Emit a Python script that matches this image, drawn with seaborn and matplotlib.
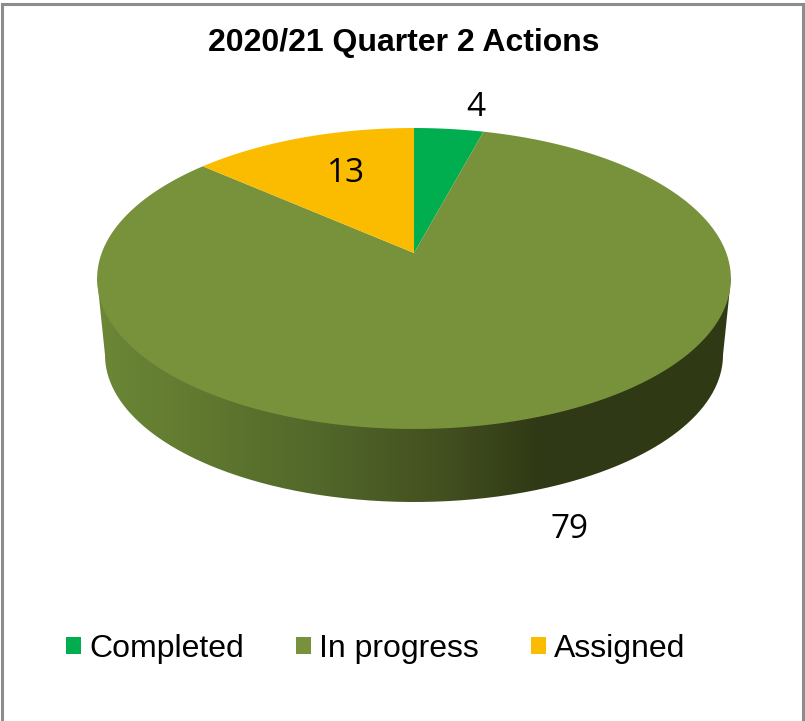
import numpy as np
import matplotlib
matplotlib.use("Agg")
import matplotlib.pyplot as plt
import seaborn as sns
from matplotlib.colors import LinearSegmentedColormap
from matplotlib.patches import Patch, PathPatch, Rectangle
from matplotlib.path import Path

TITLE = "2020/21 Quarter 2 Actions"
CATEGORIES = ["Completed", "In progress", "Assigned"]
VALUES = [4, 79, 13]
COLORS = ["#00AE4F", "#78923B", "#FBBC00"]

# where the data labels sit, in picture pixels
LABEL_POS = [(476, 107), (569, 529), (346, 174)]

# perspective of the tilted pie, worked out from the picture
APEX_X, APEX_Y = 414, 253
K_X, K_A, K_C = 312.3, -103.3, 0.1694
WALL_STOPS = [
    (0.00, "#6C8737"),
    (0.15, "#617A30"),
    (0.35, "#52672A"),
    (0.55, "#424F1F"),
    (0.70, "#2F3915"),
    (1.00, "#303B16"),
]


def project(theta):
    # theta is clockwise from 12 o'clock, in degrees
    u = np.sin(np.radians(theta))
    v = np.cos(np.radians(theta))
    den = K_C * v + 1
    return APEX_X + K_X * u / den, (K_A * v + APEX_Y) / den


def wall_path():
    # bottom rim is a slightly smaller ellipse shifted down
    t = np.linspace(np.pi, 0, 300)
    x = 414 + 309 * np.cos(t)
    y = 355 + 147 * np.sin(t)
    top_l = (97, 278)
    top_r = (731, 278)
    pts = [top_l] + list(zip(x, y)) + [top_r, top_l]
    return Path(pts)


def main():
    sns.set_theme(style="white")
    palette = sns.color_palette(COLORS)

    fig = plt.figure(figsize=(8.05, 7.21), dpi=100, facecolor="white")
    ax = fig.add_axes([0, 0, 1, 1])
    ax.set_xlim(0, 805)
    ax.set_ylim(721, 0)
    ax.axis("off")

    ax.add_patch(Rectangle((2, 4), 801, 740, fc="white", ec="#8C8C8C", lw=2.2, zorder=0))

    # side wall with its left to right shading
    cmap = LinearSegmentedColormap.from_list("wall", WALL_STOPS)
    img = ax.imshow(
        np.linspace(0, 1, 256)[None, :],
        cmap=cmap,
        extent=(97, 731, 510, 270),
        aspect="auto",
        zorder=1,
    )
    clip = PathPatch(wall_path(), transform=ax.transData, fc="none", ec="none")
    ax.add_patch(clip)
    img.set_clip_path(clip)
    ax.set_xlim(0, 805)
    ax.set_ylim(721, 0)

    # top face
    edges = np.cumsum([0] + VALUES) / sum(VALUES) * 360
    for i, color in enumerate(palette):
        theta = np.linspace(edges[i], edges[i + 1], 300)
        x, y = project(theta)
        ax.fill(
            np.r_[APEX_X, x],
            np.r_[APEX_Y, y],
            color=color,
            lw=0,
            zorder=2,
        )

    for value, (lx, ly) in zip(VALUES, LABEL_POS):
        ax.text(lx, ly, str(value), fontsize=24, family="Open Sans",
                color="black", ha="center", va="center", zorder=3)

    ax.text(404, 43, TITLE, fontsize=23, family="Liberation Sans",
            fontweight="bold", color="black", ha="center", va="center")

    handles = [Patch(fc=c, ec="none") for c in palette]
    ax.legend(
        handles,
        CATEGORIES,
        loc="center",
        bbox_to_anchor=(375.5, 649),
        bbox_transform=ax.transData,
        ncol=3,
        frameon=False,
        prop={"family": "Liberation Sans", "size": 23},
        handlelength=0.47,
        handleheight=0.47,
        handletextpad=0.25,
        columnspacing=1.63,
        labelcolor="black",
    )

    fig.savefig("out.png", dpi=100)


if __name__ == "__main__":
    main()
